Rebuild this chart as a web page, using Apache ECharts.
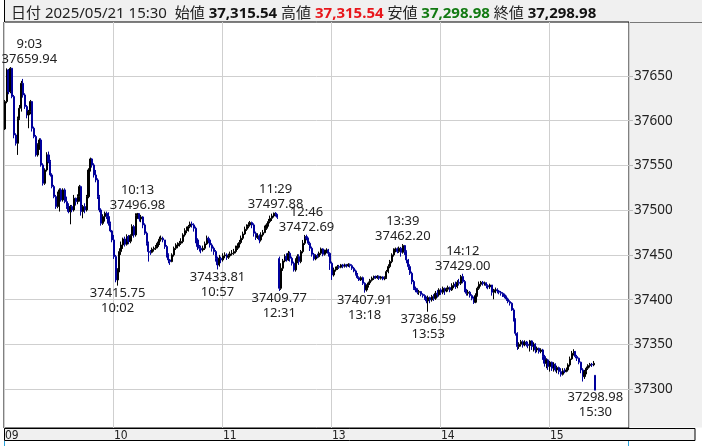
<!DOCTYPE html>
<html><head><meta charset="utf-8">
<script src="https://cdn.jsdelivr.net/npm/echarts@6/dist/echarts.min.js"></script>
<style>html,body{margin:0;padding:0;background:#fff}#c{width:702px;height:446px}</style>
</head><body><div id="c"></div>
<script>
const tradeDate = '2025/05/21';
const sessions = [['9:00','11:29'],['12:30','15:24'],['15:30','15:30']];
const axisPad = ['15:31','15:48'];
const xTickTimes = ['9:00','10:00','11:00','13:00','14:00','15:00'];
const xTickLabels = ['09','10','11','13','14','15'];
const yTicks = [37300,37350,37400,37450,37500,37550,37600,37650];

const opens = [
37590.8,37621.4,37656.7,37632.5,37658.6,37627.0,37584.1,37574.8,37602.7,37613.9,
37641.8,37628.8,37615.8,37606.5,37610.2,37621.4,37591.6,37582.3,37561.8,37573.0,
37578.5,37550.6,37530.1,37545.0,37561.8,37554.3,37539.4,37526.4,37515.2,37504.1,
37517.1,37522.7,37511.5,37522.7,37509.6,37504.1,37498.5,37504.1,37500.3,37513.4,
37509.6,37515.2,37526.4,37498.5,37504.1,37500.3,37515.2,37545.0,37557.3,37550.6,
37539.4,37533.8,37515.2,37500.3,37485.4,37492.9,37496.6,37492.9,37485.4,37476.9,
37466.8,37448.2,37422.1,37433.3,37453.8,37461.2,37467.9,37462.0,37470.5,37465.0,
37471.7,37481.7,37472.4,37494.0,37496.2,37490.3,37492.5,37483.6,37474.3,37463.1,
37453.8,37453.0,37456.4,37457.5,37459.4,37463.1,37467.6,37468.7,37466.8,37459.4,
37450.1,37444.5,37442.6,37450.1,37457.5,37460.1,37461.2,37463.1,37465.0,37472.4,
37477.2,37478.0,37481.7,37484.7,37483.6,37479.9,37466.8,37459.4,37457.5,37455.6,
37457.5,37462.4,37468.7,37466.8,37461.2,37457.5,37453.8,37446.3,37438.9,37446.3,
37444.5,37449.0,37450.1,37447.5,37449.0,37451.2,37451.9,37453.8,37457.5,37460.1,
37463.9,37468.7,37473.5,37478.7,37481.7,37483.6,37486.2,37483.6,37474.3,37469.8,
37471.3,37466.8,37472.4,37475.0,37479.9,37483.6,37487.3,37491.0,37493.6,37496.6,
37495.5,37446.0,37412.8,37435.2,37443.4,37448.2,37444.5,37451.9,37446.3,37440.8,
37433.3,37444.5,37448.2,37442.6,37453.8,37463.1,37470.5,37467.9,37463.1,37457.5,
37450.8,37445.6,37449.3,37448.2,37451.9,37456.8,37450.8,37454.5,37455.6,37451.9,
37440.8,37427.7,37433.3,37435.2,37437.0,37436.3,37438.9,37437.4,37438.9,37437.8,
37439.6,37438.1,37435.2,37432.2,37428.5,37424.7,37422.1,37424.7,37418.4,37411.0,
37415.8,37418.8,37421.8,37424.0,37425.9,37424.7,37426.2,37424.0,37425.5,37423.3,
37424.7,37431.4,37437.0,37442.6,37450.1,37455.6,37456.8,37453.8,37457.5,37453.0,
37460.5,37453.8,37444.5,37437.0,37429.6,37420.3,37412.8,37411.0,37408.4,37409.1,
37406.1,37404.6,37401.6,37398.7,37402.4,37399.8,37403.5,37401.6,37407.2,37405.4,
37411.0,37408.4,37412.8,37409.8,37411.7,37413.6,37411.0,37415.8,37417.3,37414.7,
37419.5,37418.4,37425.9,37420.3,37411.0,37407.2,37408.4,37404.6,37401.6,37397.2,
37404.6,37412.8,37417.3,37419.5,37418.0,37418.8,37415.8,37414.3,37416.5,37408.4,
37410.6,37411.0,37409.8,37408.4,37407.2,37405.4,37403.5,37400.9,37397.9,37396.1,
37388.6,37377.4,37362.5,37347.7,37350.3,37353.2,37349.5,37352.5,37350.3,37348.8,
37354.0,37347.7,37350.3,37343.9,37345.8,37342.1,37343.9,37336.5,37329.0,37332.8,
37325.3,37330.2,37323.5,37327.9,37321.6,37324.2,37319.7,37316.7,37320.5,37319.7,
37321.6,37327.2,37333.9,37340.2,37342.1,37336.5,37334.6,37330.2,37321.6,37314.1,
37319.7,37323.5,37326.4,37327.9,37327.2,37315.54];

const closes = [
37621.4,37656.7,37632.5,37658.6,37627.0,37584.1,37574.8,37602.7,37613.9,37641.8,
37628.8,37615.8,37606.5,37610.2,37621.4,37591.6,37582.3,37561.8,37573.0,37578.5,
37550.6,37530.1,37545.0,37561.8,37554.3,37539.4,37526.4,37515.2,37504.1,37517.1,
37522.7,37511.5,37522.7,37509.6,37504.1,37498.5,37504.1,37500.3,37513.4,37509.6,
37515.2,37526.4,37498.5,37504.1,37500.3,37515.2,37545.0,37557.3,37550.6,37539.4,
37533.8,37515.2,37500.3,37485.4,37492.9,37496.6,37492.9,37485.4,37476.9,37466.8,
37448.2,37422.1,37433.3,37453.8,37461.2,37467.9,37462.0,37470.5,37465.0,37471.7,
37481.7,37472.4,37494.0,37496.2,37490.3,37492.5,37483.6,37474.3,37463.1,37453.8,
37453.0,37456.4,37457.5,37459.4,37463.1,37467.6,37468.7,37466.8,37459.4,37450.1,
37444.5,37442.6,37450.1,37457.5,37460.1,37461.2,37463.1,37465.0,37472.4,37477.2,
37478.0,37481.7,37484.7,37483.6,37479.9,37466.8,37459.4,37457.5,37455.6,37457.5,
37462.4,37468.7,37466.8,37461.2,37457.5,37453.8,37446.3,37438.9,37446.3,37444.5,
37449.0,37450.1,37447.5,37449.0,37451.2,37451.9,37453.8,37457.5,37460.1,37463.9,
37468.7,37473.5,37478.7,37481.7,37483.6,37486.2,37483.6,37474.3,37469.8,37471.3,
37466.8,37472.4,37475.0,37479.9,37483.6,37487.3,37491.0,37493.6,37496.6,37495.5,
37492.1,37412.8,37435.2,37443.4,37448.2,37444.5,37451.9,37446.3,37440.8,37433.3,
37444.5,37448.2,37442.6,37453.8,37463.1,37470.5,37467.9,37463.1,37457.5,37450.8,
37445.6,37449.3,37448.2,37451.9,37456.8,37450.8,37454.5,37455.6,37451.9,37440.8,
37427.7,37433.3,37435.2,37437.0,37436.3,37438.9,37437.4,37438.9,37437.8,37439.6,
37438.1,37435.2,37432.2,37428.5,37424.7,37422.1,37424.7,37418.4,37411.0,37415.8,
37418.8,37421.8,37424.0,37425.9,37424.7,37426.2,37424.0,37425.5,37423.3,37424.7,
37431.4,37437.0,37442.6,37450.1,37455.6,37456.8,37453.8,37457.5,37453.0,37460.5,
37453.8,37444.5,37437.0,37429.6,37420.3,37412.8,37411.0,37408.4,37409.1,37406.1,
37404.6,37401.6,37398.7,37402.4,37399.8,37403.5,37401.6,37407.2,37405.4,37411.0,
37408.4,37412.8,37409.8,37411.7,37413.6,37411.0,37415.8,37417.3,37414.7,37419.5,
37418.4,37425.9,37420.3,37411.0,37407.2,37408.4,37404.6,37401.6,37397.2,37404.6,
37412.8,37417.3,37419.5,37418.0,37418.8,37415.8,37414.3,37416.5,37408.4,37410.6,
37411.0,37409.8,37408.4,37407.2,37405.4,37403.5,37400.9,37397.9,37396.1,37388.6,
37377.4,37362.5,37347.7,37350.3,37353.2,37349.5,37352.5,37350.3,37348.8,37354.0,
37347.7,37350.3,37343.9,37345.8,37342.1,37343.9,37336.5,37329.0,37332.8,37325.3,
37330.2,37323.5,37327.9,37321.6,37324.2,37319.7,37316.7,37320.5,37319.7,37321.6,
37327.2,37333.9,37340.2,37342.1,37336.5,37334.6,37330.2,37321.6,37314.1,37319.7,
37323.5,37326.4,37327.9,37327.2,37329.0,37298.98];

const highs = [
37623.2,37658.5,37657.8,37659.94,37659.0,37628.8,37586.0,37604.6,37617.6,37644.5,
37646.7,37630.7,37617.6,37612.1,37623.2,37622.1,37593.4,37584.1,37574.8,37580.4,
37580.4,37552.5,37546.9,37564.8,37565.5,37556.2,37541.3,37528.3,37517.1,37520.8,
37524.5,37524.5,37524.5,37524.5,37515.2,37507.8,37505.9,37505.9,37517.1,37514.1,
37517.8,37528.3,37527.5,37505.9,37507.8,37517.1,37546.9,37558.8,37558.1,37552.5,
37545.0,37535.7,37517.1,37502.2,37495.5,37498.5,37498.5,37497.7,37487.3,37478.0,
37472.4,37450.1,37435.2,37457.5,37465.0,37469.4,37470.5,37473.1,37472.4,37473.1,
37484.3,37483.6,37496.6,37496.98,37496.5,37494.8,37493.3,37485.4,37476.1,37465.0,
37455.6,37458.3,37459.4,37461.2,37465.0,37470.5,37471.7,37470.5,37466.8,37461.2,
37451.9,37445.6,37451.9,37459.4,37463.1,37464.2,37465.7,37468.7,37474.3,37479.9,
37481.7,37483.6,37487.3,37487.3,37485.4,37481.7,37468.7,37461.2,37460.5,37460.5,
37465.0,37471.7,37470.5,37468.7,37463.1,37459.4,37455.6,37448.2,37450.1,37448.2,
37451.9,37453.0,37451.9,37451.5,37453.8,37455.6,37456.8,37460.5,37463.1,37466.8,
37471.7,37476.1,37481.7,37484.3,37486.6,37488.0,37487.3,37485.4,37476.1,37474.3,
37473.1,37475.4,37478.0,37482.8,37485.4,37490.3,37494.0,37496.2,37497.4,37497.88,
37495.5,37448.2,37440.8,37445.6,37450.8,37451.9,37454.5,37453.8,37448.2,37442.6,
37446.3,37450.8,37450.8,37455.6,37466.8,37472.4,37472.69,37469.4,37465.0,37459.4,
37452.3,37450.8,37451.5,37453.8,37458.3,37457.5,37456.0,37457.5,37456.8,37453.0,
37442.6,37435.9,37437.0,37438.9,37438.9,37440.0,37440.0,37440.4,37440.0,37440.8,
37440.4,37439.6,37436.7,37433.7,37429.9,37426.2,37426.2,37425.9,37419.5,37417.3,
37420.3,37423.3,37425.9,37427.0,37427.0,37427.4,37427.0,37426.6,37426.2,37426.2,
37433.3,37439.6,37444.5,37451.9,37457.5,37458.3,37458.3,37459.4,37459.0,37462.20,
37461.2,37455.3,37445.6,37439.6,37431.4,37422.1,37414.7,37412.8,37411.0,37409.8,
37407.2,37406.1,37403.5,37404.6,37403.5,37405.4,37406.1,37409.8,37411.0,37412.8,
37412.8,37414.7,37413.6,37413.6,37415.8,37414.7,37418.4,37419.5,37420.3,37421.8,
37423.3,37427.7,37429.00,37422.1,37412.1,37411.0,37409.8,37406.1,37403.5,37407.2,
37414.7,37420.3,37421.0,37421.0,37420.3,37419.5,37417.3,37418.0,37416.5,37412.1,
37413.6,37412.8,37411.0,37409.8,37408.4,37406.9,37404.6,37402.4,37399.4,37397.2,
37390.5,37379.3,37363.7,37352.5,37355.1,37354.7,37354.7,37354.0,37353.2,37355.1,
37354.7,37352.5,37351.4,37347.7,37346.5,37345.8,37345.1,37338.4,37334.6,37333.9,
37331.6,37330.9,37330.2,37329.0,37326.4,37325.3,37323.5,37323.5,37323.5,37324.2,
37329.0,37336.5,37342.8,37344.7,37342.8,37338.4,37335.4,37330.9,37323.5,37321.6,
37325.3,37327.9,37329.4,37329.4,37331.6,37315.54];

const lows = [
37589.7,37619.5,37629.6,37630.7,37625.1,37580.4,37572.2,37561.8,37600.9,37610.2,
37625.8,37613.2,37602.7,37591.6,37607.2,37587.9,37580.4,37559.9,37559.9,37567.4,
37548.7,37527.5,37528.3,37543.2,37552.5,37537.6,37524.5,37513.4,37501.5,37502.2,
37498.5,37509.6,37509.6,37507.8,37501.5,37496.6,37484.3,37497.7,37498.5,37505.2,
37506.7,37509.6,37494.0,37491.0,37496.6,37498.5,37513.4,37543.2,37547.6,37536.5,
37531.2,37512.6,37497.7,37482.8,37483.6,37487.3,37490.3,37482.8,37475.4,37464.2,
37445.6,37419.5,37415.75,37430.7,37450.1,37456.8,37459.4,37460.5,37462.0,37463.1,
37465.0,37469.4,37470.5,37490.3,37487.3,37486.6,37479.9,37472.4,37460.5,37442.6,
37450.1,37451.9,37453.8,37455.6,37457.5,37461.2,37465.0,37464.2,37456.8,37447.1,
37440.8,37438.9,37441.9,37448.2,37455.6,37457.5,37459.4,37461.2,37463.1,37470.5,
37474.3,37476.1,37479.9,37480.6,37476.1,37463.1,37455.6,37453.8,37451.9,37453.8,
37455.6,37461.2,37463.1,37458.3,37453.8,37450.1,37442.6,37433.81,37437.0,37440.8,
37442.6,37446.3,37444.5,37445.6,37447.1,37449.3,37450.1,37451.9,37455.6,37458.3,
37462.0,37466.8,37472.4,37476.9,37479.9,37481.7,37479.9,37470.5,37466.8,37467.9,
37463.1,37465.0,37470.5,37474.3,37478.0,37481.7,37485.4,37488.0,37491.8,37492.9,
37490.3,37409.77,37411.0,37432.2,37441.9,37442.6,37443.4,37442.6,37438.2,37431.4,
37431.4,37440.8,37438.9,37440.8,37451.9,37461.2,37466.4,37461.2,37454.5,37448.2,
37443.7,37444.1,37446.3,37447.1,37450.1,37448.6,37449.3,37451.9,37448.2,37433.3,
37422.1,37425.9,37431.4,37433.3,37434.4,37435.2,37435.2,37435.9,37435.9,37436.7,
37435.9,37433.3,37430.7,37427.0,37423.3,37421.0,37421.0,37416.5,37407.91,37409.1,
37413.6,37416.5,37420.3,37422.1,37423.3,37423.3,37422.1,37422.5,37421.8,37421.8,
37423.3,37429.6,37435.2,37440.8,37448.2,37453.0,37451.9,37452.3,37448.2,37451.5,
37450.1,37440.8,37433.3,37427.7,37417.3,37411.0,37408.4,37406.1,37405.4,37403.9,
37402.4,37399.8,37396.1,37386.59,37396.1,37397.9,37398.7,37399.8,37402.4,37403.5,
37405.4,37406.1,37405.4,37408.4,37409.1,37408.4,37409.8,37412.8,37412.1,37412.8,
37415.8,37416.5,37418.4,37408.4,37404.6,37404.6,37402.4,37399.4,37395.3,37396.1,
37403.5,37411.0,37414.7,37415.8,37415.8,37412.8,37411.7,37412.1,37404.6,37400.5,
37407.2,37407.2,37406.1,37404.6,37403.1,37401.6,37398.7,37396.1,37393.5,37387.5,
37375.6,37359.9,37343.9,37345.1,37347.7,37346.5,37348.0,37347.7,37345.8,37342.1,
37343.9,37342.1,37340.2,37341.3,37339.8,37340.2,37332.8,37325.3,37323.5,37321.6,
37319.7,37320.5,37319.7,37319.7,37317.9,37316.7,37314.1,37315.3,37317.9,37319.0,
37319.7,37325.3,37332.8,37337.6,37334.6,37331.6,37327.9,37317.9,37308.6,37311.5,
37316.7,37321.6,37324.2,37324.9,37325.7,37298.98];

const annoTimes  = ['9:03','10:13','10:02','10:57','11:29','12:31','12:46','13:18','13:39','13:53','14:12','15:30'];
const annoValues = [37659.94,37496.98,37415.75,37433.81,37497.88,37409.77,37472.69,37407.91,37462.20,37386.59,37429.00,37298.98];
const annoSide   = ['high','high','low','low','high','low','high','low','high','low','high','low'];

function minutes(a, b) {
  const p = s => s.split(':').map(Number);
  const [ah, am] = p(a), [bh, bm] = p(b);
  const out = [];
  for (let t = ah * 60 + am; t <= bh * 60 + bm; t++) out.push(Math.floor(t / 60) + ':' + String(t % 60).padStart(2, '0'));
  return out;
}
const barTimes = [].concat(...sessions.map(s => minutes(s[0], s[1])));
const axisTimes = barTimes.concat(minutes(axisPad[0], axisPad[1]));
const candles = barTimes.map((t, i) => [opens[i], closes[i], lows[i], highs[i]]);

const last = barTimes.length - 1;
const fmt = v => v.toLocaleString('en-US', {minimumFractionDigits: 2, maximumFractionDigits: 2});
const headerText = '{l|日付} {n|' + tradeDate + ' ' + barTimes[last] + '}  {l|始値} {b|' + fmt(opens[last]) +
  '} {l|高値} {r|' + fmt(highs[last]) + '} {l|安値} {g|' + fmt(lows[last]) + '} {l|終値} {b|' + fmt(closes[last]) + '}';

const labelShift = {'9:03': [19, 0]};
const FONT = "'Noto Sans','Noto Sans CJK JP',sans-serif";

const chart = echarts.init(document.getElementById('c'), null, {renderer: 'canvas'});
chart.setOption({
  animation: false,
  backgroundColor: '#fff',
  title: {
    left: 6, top: 1, text: headerText,
    textStyle: {
      fontFamily: FONT, fontSize: 15, fontWeight: 'normal', color: '#222',
      rich: {
        l: {fontFamily: FONT, fontSize: 15, color: '#222'},
        n: {fontFamily: FONT, fontSize: 15, color: '#222'},
        b: {fontFamily: FONT, fontSize: 15, color: '#111', fontWeight: 'bold'},
        r: {fontFamily: FONT, fontSize: 15, color: '#e8161b', fontWeight: 'bold'},
        g: {fontFamily: FONT, fontSize: 15, color: '#127a12', fontWeight: 'bold'}
      }
    }
  },
  graphic: [
    {type: 'rect', z: -10, shape: {x: 4.5, y: -1, width: 700, height: 23.5}, style: {fill: '#f0f0f0', stroke: '#000', lineWidth: 1}},
    {type: 'rect', z: -10, shape: {x: 629.5, y: 22.5, width: 80, height: 405}, style: {fill: '#f0f0f0'}},
    {type: 'rect', z: -10, shape: {x: 4.5, y: 428.5, width: 690.5, height: 12}, style: {fill: '#f0f0f0', stroke: '#000', lineWidth: 1}},
    {type: 'line', shape: {x1: 4.5, y1: 441, x2: 4.5, y2: 446}, style: {stroke: '#2aa3dc', lineWidth: 1}},
    {type: 'line', shape: {x1: 628.5, y1: 441, x2: 628.5, y2: 446}, style: {stroke: '#2aa3dc', lineWidth: 1}}
  ],
  grid: {left: 4, top: 22, right: 73, bottom: 18, show: true, borderColor: '#000', borderWidth: 1,
         backgroundColor: '#fff', outerBoundsMode: 'none', containLabel: false},
  xAxis: {
    type: 'category', data: axisTimes, boundaryGap: true,
    axisLine: {show: false}, axisTick: {show: false},
    axisLabel: {
      interval: (i, v) => xTickTimes.includes(v),
      formatter: v => xTickLabels[xTickTimes.indexOf(v)] || '',
      align: 'left', margin: 2, fontSize: 12, color: '#222',
      fontFamily: "'Liberation Sans Narrow','DejaVu Sans Condensed',sans-serif"
    },
    splitLine: {show: true, interval: (i, v) => xTickTimes.includes(v), lineStyle: {color: '#cfcfcf', width: 1}}
  },
  yAxis: {
    type: 'value', position: 'right', min: 37256.7, max: 37710.3,
    axisLine: {show: false},
    axisTick: {show: true, length: 4, lineStyle: {color: '#bbb'}, customValues: yTicks},
    axisLabel: {customValues: yTicks, formatter: v => String(v), margin: 5, color: '#222', fontSize: 13.5, fontFamily: FONT},
    splitLine: {show: true, lineStyle: {color: '#cfcfcf', width: 1}}
  },
  series: [{
    type: 'candlestick', data: candles, barWidth: 1.6, large: false,
    itemStyle: {color: '#000', color0: '#00009c', borderColor: '#000', borderColor0: '#00009c', borderColorDoji: '#000', borderWidth: 1},
    markPoint: {
      symbol: 'circle', symbolSize: 0, silent: true, animation: false,
      label: {show: true, color: '#222', fontSize: 13, lineHeight: 15, fontFamily: FONT},
      data: annoTimes.map((t, k) => ({
        coord: [barTimes.indexOf(t), annoValues[k]],
        value: annoValues[k],
        label: {
          position: annoSide[k] === 'high' ? 'top' : 'bottom', distance: 0,
          offset: labelShift[t] || [0, 0],
          formatter: annoSide[k] === 'high' ? (t + '\n' + annoValues[k].toFixed(2)) : (annoValues[k].toFixed(2) + '\n' + t)
        }
      }))
    }
  }]
});
</script>
</body></html>
